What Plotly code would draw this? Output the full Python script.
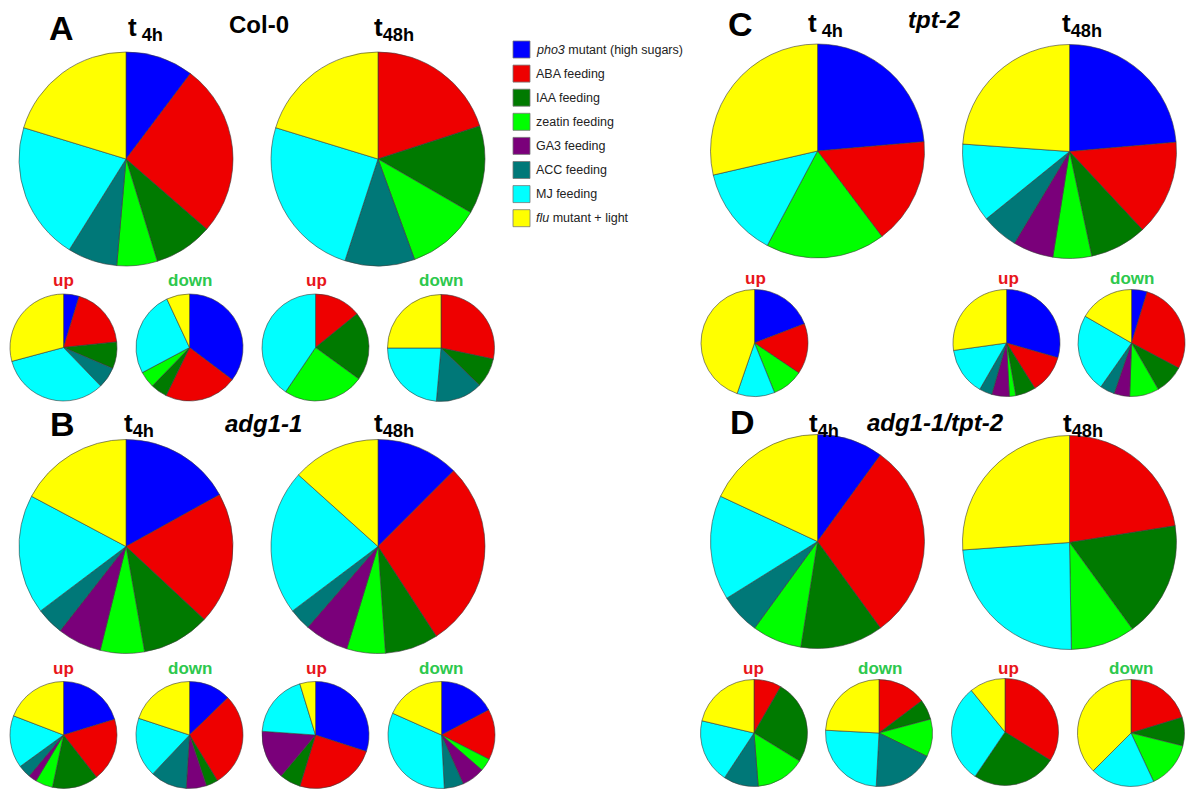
import plotly.graph_objects as go

# ---------------- data ----------------
categories = ["pho3 mutant (high sugars)", "ABA feeding", "IAA feeding", "zeatin feeding",
              "GA3 feeding", "ACC feeding", "MJ feeding", "flu mutant + light"]
legend_labels = ["<i>pho3</i> mutant (high sugars)", "ABA feeding", "IAA feeding", "zeatin feeding",
                 "GA3 feeding", "ACC feeding", "MJ feeding", "<i>flu</i> mutant + light"]
colors = ["#0000FF", "#EE0000", "#007A00", "#00FF00", "#7A007A", "#007878", "#00FFFF", "#FFFF00"]

# shares (pho3, ABA, IAA, zeatin, GA3, ACC, MJ, flu)
A_t4h = [37, 94, 32, 22, 0, 27, 75, 73]
A_t48h = [0, 72, 48, 40, 0, 38, 89, 73]
A_up_t4h = [17, 67, 29, 0, 0, 23, 119, 105]
A_down_t4h = [127, 79, 18, 18, 0, 0, 93, 25]
A_up_t48h = [0, 51, 75, 88, 0, 0, 146, 0]
A_down_t48h = [0, 102, 32, 0, 0, 51, 85, 90]

B_t4h = [61, 72, 37, 24, 24, 15, 65, 62]
B_t48h = [45, 102, 29, 21, 24, 12, 79, 48]
B_up_t4h = [73, 69, 50, 19, 9, 14, 57, 69]
B_down_t4h = [46, 103, 13, 0, 22, 40, 65, 72]
B_up_t48h = [108, 89, 23, 0, 54, 0, 69, 17]
B_down_t48h = [62, 55, 0, 14, 25, 21, 117, 66]

C_t4h = [85, 58, 0, 65, 0, 0, 49, 103]
C_t48h = [85, 52, 31, 21, 22, 20, 43, 86]
C_up_t4h = [69, 55, 0, 34, 0, 0, 41, 161]
C_up_t48h = [106, 42, 22, 7, 19, 14, 52, 98]
C_down_t48h = [17, 101, 32, 32, 17, 16, 85, 60]

D_t4h = [36, 108, 45, 27, 0, 22, 57, 65]
D_t48h = [0, 81, 63, 35, 0, 0, 87, 94]
D_up_t4h = [0, 30, 92, 54, 0, 38, 70, 77]
D_down_t4h = [0, 53, 22, 41, 0, 67, 90, 87]
D_up_t48h = [0, 122, 92, 0, 0, 0, 107, 39]
D_down_t48h = [0, 73, 31, 51, 0, 0, 70, 135]

# ---------------- layout ----------------
W, H = 1186, 789
RL, RS = 107, 53.5

pies = [
    (A_t4h, 126, 159, RL), (A_t48h, 378, 159, RL),
    (A_up_t4h, 63.5, 347.5, RS), (A_down_t4h, 189.5, 347.5, RS),
    (A_up_t48h, 315.5, 347.5, RS), (A_down_t48h, 441, 348, RS),
    (B_t4h, 126, 546.5, RL), (B_t48h, 378, 546.5, RL),
    (B_up_t4h, 63.5, 735, RS), (B_down_t4h, 189.5, 735, RS),
    (B_up_t48h, 315.5, 735, RS), (B_down_t48h, 441.5, 735, RS),
    (C_t4h, 817.5, 151, RL), (C_t48h, 1069.5, 151.5, RL),
    (C_up_t4h, 754.5, 343, RS), (C_up_t48h, 1006.5, 343, RS), (C_down_t48h, 1131.5, 343, RS),
    (D_t4h, 817.5, 541.5, RL), (D_t48h, 1069.5, 542.5, RL),
    (D_up_t4h, 754, 733, RS), (D_down_t4h, 879, 733, RS),
    (D_up_t48h, 1005, 732, RS), (D_down_t48h, 1131, 733, RS),
]

fig = go.Figure()
for vals, cx, cy, r in pies:
    idx = [i for i, v in enumerate(vals) if v > 0]
    fig.add_trace(go.Pie(
        labels=[categories[i] for i in idx],
        values=[vals[i] for i in idx],
        marker=dict(colors=[colors[i] for i in idx], line=dict(color="#3a3a3a", width=0.6)),
        sort=False, direction="clockwise", rotation=0,
        textinfo="none", hoverinfo="label+percent", showlegend=False,
        domain=dict(x=[(cx - r) / W, (cx + r) / W], y=[1 - (cy + r) / H, 1 - (cy - r) / H]),
    ))

FONT = "Arial, Liberation Sans, sans-serif"
ann = []


def add_text(text, x, y, size, color="black", xanchor="center"):
    ann.append(dict(text=text, x=x / W, y=1 - y / H, xref="paper", yref="paper",
                    showarrow=False, xanchor=xanchor, yanchor="middle",
                    font=dict(family=FONT, size=size, color=color)))


# panel letters
for letter, x, y in [("A", 61, 28), ("B", 62, 424), ("C", 740, 24), ("D", 742, 422)]:
    add_text(f"<b>{letter}</b>", x, y, 34)

# time labels
for text, x, y in [("<b>t<sub> 4h</sub></b>", 145, 28), ("<b>t<sub>48h</sub></b>", 394, 28),
                   ("<b>t<sub>4h</sub></b>", 139, 424), ("<b>t<sub>48h</sub></b>", 394, 424),
                   ("<b>t<sub> 4h</sub></b>", 825, 24), ("<b>t<sub>48h</sub></b>", 1082, 24),
                   ("<b>t<sub>4h</sub></b>", 824, 424), ("<b>t<sub>48h</sub></b>", 1083, 424)]:
    add_text(text, x, y, 26)

# genotype titles
for text, x, y in [("<b>Col-0</b>", 259, 24), ("<b><i>adg1-1</i></b>", 263, 423),
                   ("<b><i>tpt-2</i></b>", 934, 20), ("<b><i>adg1-1/tpt-2</i></b>", 935, 422)]:
    add_text(text, x, y, 24)

UP, DOWN = "#E8161B", "#2DC84D"
for x, y in [(63, 280), (316, 280), (63, 668), (317, 668), (755, 278), (1008, 278), (754, 668), (1008, 668)]:
    add_text("<b>up</b>", x, y, 17, UP)
for x, y in [(190, 280), (441, 280), (190, 668), (441, 668), (1132, 278), (880, 668), (1131, 668)]:
    add_text("<b>down</b>", x, y, 17, DOWN)

# legend
shapes = []
for i, (lab, col) in enumerate(zip(legend_labels, colors)):
    yc = 49.5 + 24.1 * i
    shapes.append(dict(type="rect", xref="paper", yref="paper",
                       x0=513 / W, x1=530 / W, y0=1 - (yc + 8.5) / H, y1=1 - (yc - 8.5) / H,
                       fillcolor=col, line=dict(color="#777777", width=0.8)))
    add_text(lab, 534, yc, 12.5, "#222222", xanchor="left")

fig.update_layout(width=W, height=H, margin=dict(l=0, r=0, t=0, b=0),
                  paper_bgcolor="white", plot_bgcolor="white",
                  annotations=ann, shapes=shapes)
fig.write_html("out.html", config={"displayModeBar": False},
               post_script="document.body.style.margin='0';")
